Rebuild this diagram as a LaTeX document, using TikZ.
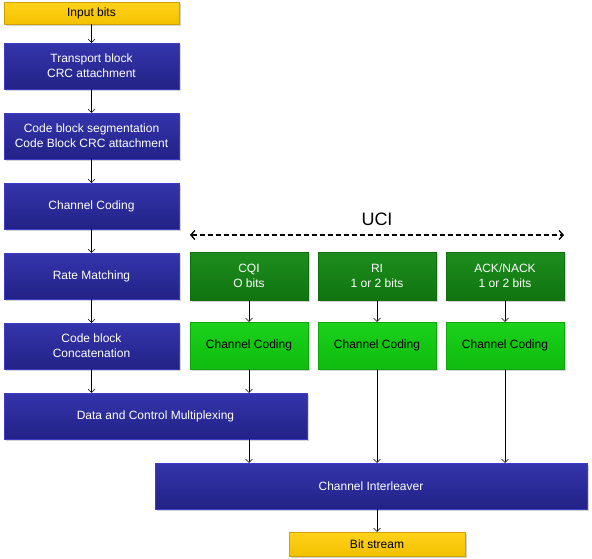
\documentclass[tikz,border=0pt]{standalone}
\usepackage{fontspec}
\setmainfont{Liberation Sans}
\usetikzlibrary{positioning, shadows, arrows.meta}

\definecolor{blockblue}{RGB}{42,42,168}
\definecolor{blockblueedge}{RGB}{60,60,200}
\definecolor{bitsyellow}{RGB}{255,204,0}
\definecolor{ucigreen}{RGB}{18,136,18}
\definecolor{codegreen}{RGB}{16,208,16}

\tikzset{
  box/.style={minimum width=175pt, minimum height=46pt, inner sep=0pt, align=center,
    font=\fontsize{12}{15}\selectfont,
    drop shadow={shadow xshift=1.5pt, shadow yshift=-1.5pt, opacity=0.35}},
  blockbox/.style={box, draw=blockblueedge, top color=blockblue!95!white, bottom color=blockblue!80!black, text=white},
  bitbox/.style={box, minimum height=22pt, draw=bitsyellow!80!black, top color=bitsyellow!90!white, bottom color=bitsyellow!95!black, text=black},
  ucibox/.style={box, minimum width=118pt, minimum height=48pt, draw=ucigreen!80!black, top color=ucigreen!95!white, bottom color=ucigreen!85!black, text=white},
  codebox/.style={box, minimum width=118pt, minimum height=47pt, draw=codegreen!80!black, top color=codegreen!95!white, bottom color=codegreen!90!black, text=black},
}

\begin{document}
\begin{tikzpicture}[x=1pt, y=-1pt, >={Straight Barb[length=3.5pt,width=7pt]}]
    \useasboundingbox (0,0) rectangle (592,558);

    % left column
    \node[bitbox]   (in)  at (91.5,13)  {Input bits};
    \node[blockbox] (tb)  at (91.5,66)  {Transport block\\CRC attachment};
    \node[blockbox] (cbs) at (91.5,136) {Code block segmentation\\Code Block CRC attachment};
    \node[blockbox] (cc)  at (91.5,206) {Channel Coding};
    \node[blockbox] (rm)  at (91.5,276) {Rate Matching};
    \node[blockbox] (cbc) at (91.5,346) {Code block\\Concatenation};
    \node[blockbox, minimum width=303pt] (mux) at (155.5,416) {Data and Control Multiplexing};
    \node[blockbox, minimum width=432pt] (il)  at (371,486)   {Channel Interleaver};
    \node[bitbox, minimum width=176pt, minimum height=24pt] (bs) at (377,544) {Bit stream};

    % control information
    \node[ucibox] (cqi) at (249,276) {CQI\\O bits};
    \node[ucibox] (ri)  at (377,276) {RI\\1 or 2 bits};
    \node[ucibox] (ack) at (505,276) {ACK/NACK\\1 or 2 bits};
    \node[codebox] (cqic) at (249,345.5) {Channel Coding};
    \node[codebox] (ric)  at (377,345.5) {Channel Coding};
    \node[codebox] (ackc) at (505,345.5) {Channel Coding};

    \node[font=\fontsize{18}{20}\selectfont] (uci) at (377,219) {UCI};
    \coordinate (ucil) at (190,235);
    \coordinate (ucir) at (564,235);
    \draw[{Straight Barb[length=4pt,width=9pt]}-{Straight Barb[length=4pt,width=9pt]}, line width=1.3pt, dash pattern=on 5pt off 3pt] (ucil) -- (ucir);

    \path[->]
    (in)  edge (tb)
    (tb)  edge (cbs)
    (cbs) edge (cc)
    (cc)  edge (rm)
    (rm)  edge (cbc)
    (cbc) edge (cbc |- mux.north)
    (cqi) edge (cqic)
    (ri)  edge (ric)
    (ack) edge (ackc)
    (cqic) edge (cqic |- mux.north)
    (cqic |- mux.south) edge (cqic |- il.north)
    (ric)  edge (ric |- il.north)
    (ackc) edge (ackc |- il.north)
    (bs |- il.south) edge (bs)
    ;
\end{tikzpicture}
\end{document}
